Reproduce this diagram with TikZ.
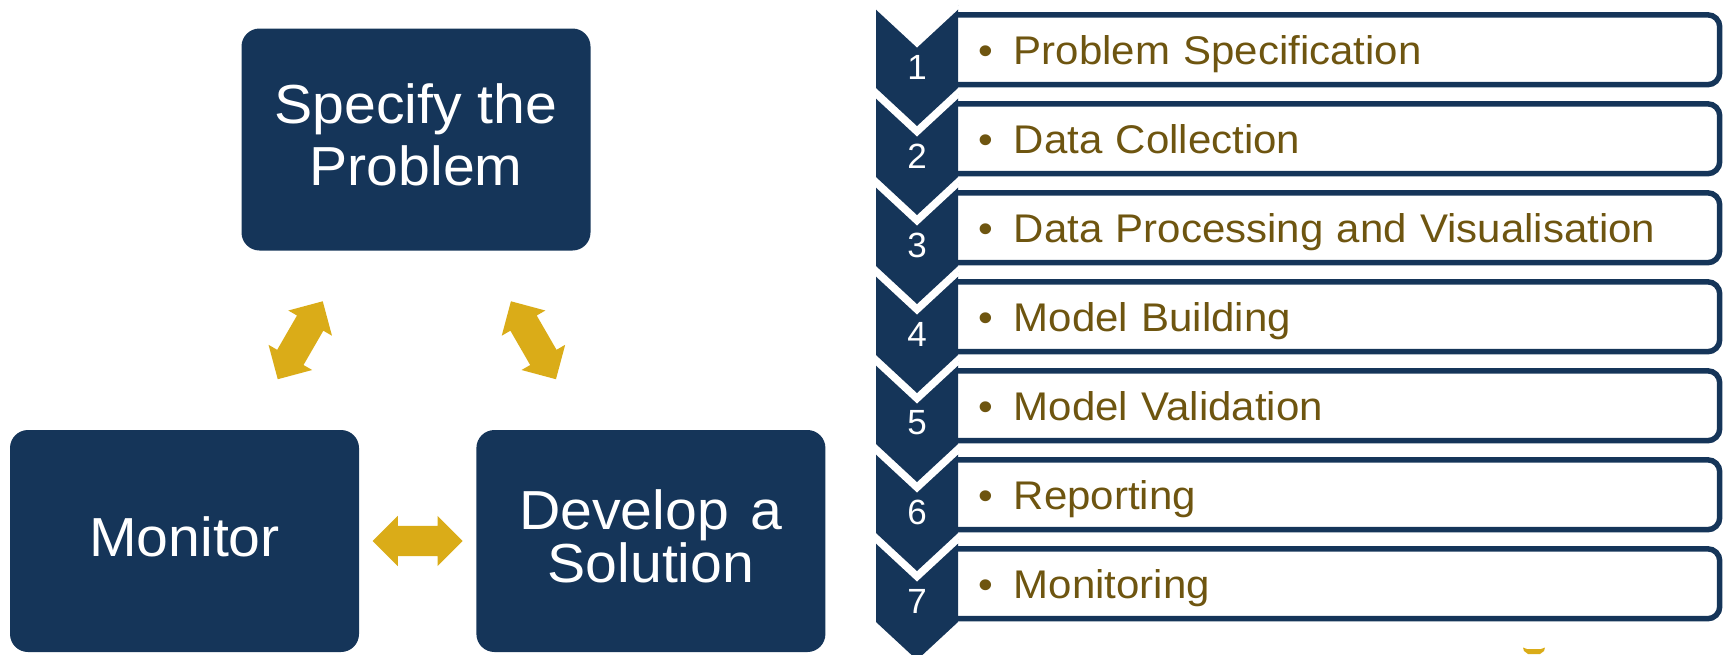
\documentclass[tikz,border=0pt]{standalone}
\usepackage{fontspec}
\setmainfont{Liberation Sans}
\newfontfamily\cyclefont[FakeStretch=1.04]{Liberation Sans}
\newfontfamily\listfont[FakeStretch=1.05]{Liberation Sans}
\usetikzlibrary{shapes.arrows, positioning, calc}

\definecolor{cycleblue}{HTML}{153559}
\definecolor{arrowgold}{HTML}{DAAC18}
\definecolor{itembrown}{HTML}{6E5510}

\begin{document}
\begin{tikzpicture}[
    x=1pt, y=-1pt,
    cyclebox/.style={
        rounded corners=18pt,
        fill=cycleblue,
        text=white,
        align=center,
        minimum width=349pt,
        minimum height=222pt,
        inner sep=0pt,
        text height=38pt,
        text depth=8pt,
        font=\cyclefont\fontsize{55}{62}\selectfont
    },
    link/.style={
        double arrow,
        double arrow tip angle=90,
        double arrow head extend=10pt,
        double arrow head indent=0pt,
        fill=arrowgold,
        minimum width=50pt,
        minimum height=90pt,
        inner xsep=0pt,
        inner ysep=15pt
    },
    num/.style={text=white, font=\fontsize{35}{35}\selectfont},
    item/.style={
        minimum width=761.5pt,
        minimum height=69.5pt,
        text width=720pt,
        inner xsep=20.7pt,
        inner ysep=0pt,
        align=left,
        text height=28.5pt,
        text depth=0pt,
        text=itembrown,
        font=\listfont\fontsize{40}{40}\selectfont
    },
    frame/.style={draw=cycleblue, line width=5.5pt, rounded corners=12pt}
]
\useasboundingbox (0,0) rectangle (1723,654);

% cycle on the left
\node[cyclebox, text height=100pt] (spec) at (416,139.5) {Specify the\\Problem};
\node[cyclebox] (monitor) at (184.5,541) {Monitor};
\node[cyclebox, text height=90pt, font=\cyclefont\fontsize{55}{52.4}\selectfont,
      right=117pt of monitor] (develop) {Develop\hspace{0.4em}a\\Solution};

\node[link, rotate=60] (specmon) at ($(spec.south west)!0.5!(monitor.north east)$) {};
\node[link, rotate=-60] (specdev) at ($(spec.south east)!0.5!(develop.north west)$) {};
\node[link] (mondev) at ($(monitor.east)!0.5!(develop.west)$) {};

% chevron list on the right
\foreach \t in {5,94,183,272,361,450,539} {
    \fill[cycleblue] (876,\t) -- (917,\t+38) -- (958,\t) -- (958,\t+83)
        -- (917,\t+121) -- (876,\t+83) -- cycle;
    \draw[white, line width=6.6pt] (876,\t) -- (917,\t+38) -- (958,\t);
}

\node[num] (n1) at (917,67) {1};
\node[num] (n2) at (917,156) {2};
\node[num] (n3) at (917,245) {3};
\node[num] (n4) at (917,334) {4};
\node[num] (n5) at (917,423) {5};
\node[num] (n6) at (917,512) {6};
\node[num] (n7) at (917,601) {7};

\node[item] (s1) at (1338.75,49.75) {\makebox[35pt][l]{•}Problem Specification};
\node[item] (s2) at (1338.75,138.75) {\makebox[35pt][l]{•}Data Collection};
\node[item] (s3) at (1338.75,227.75) {\makebox[35pt][l]{•}Data Processing and Visualisation};
\node[item] (s4) at (1338.75,316.75) {\makebox[35pt][l]{•}Model Building};
\node[item] (s5) at (1338.75,405.75) {\makebox[35pt][l]{•}Model Validation};
\node[item] (s6) at (1338.75,494.75) {\makebox[35pt][l]{•}Reporting};
\node[item] (s7) at (1338.75,583.75) {\makebox[35pt][l]{•}Monitoring};

\draw[frame] (s1.north west) -- (s1.north east) -- (s1.south east) -- (s1.south west);
\draw[frame] (s2.north west) -- (s2.north east) -- (s2.south east) -- (s2.south west);
\draw[frame] (s3.north west) -- (s3.north east) -- (s3.south east) -- (s3.south west);
\draw[frame] (s4.north west) -- (s4.north east) -- (s4.south east) -- (s4.south west);
\draw[frame] (s5.north west) -- (s5.north east) -- (s5.south east) -- (s5.south west);
\draw[frame] (s6.north west) -- (s6.north east) -- (s6.south east) -- (s6.south west);
\draw[frame] (s7.north west) -- (s7.north east) -- (s7.south east) -- (s7.south west);

% small mark at the foot
\fill[arrowgold] (1523,647.5) -- (1527,649) -- (1541,649) -- (1545,647.5)
    -- (1544,651) -- (1540,654) -- (1528,654) -- (1524,651) -- cycle;
\end{tikzpicture}
\end{document}
